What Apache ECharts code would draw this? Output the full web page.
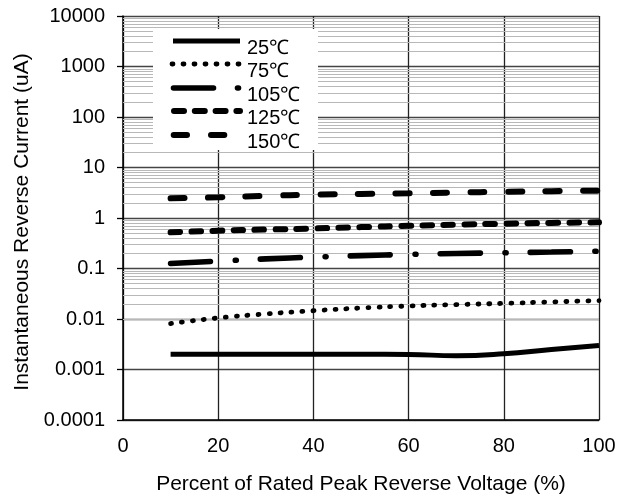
<!DOCTYPE html>
<html>
<head>
<meta charset="utf-8">
<script src="https://cdn.jsdelivr.net/npm/echarts@6/dist/echarts.min.js"></script>
<style>
html,body{margin:0;padding:0;background:#fff;}
#chart{width:630px;height:497px;}
</style>
</head>
<body>
<div id="chart"></div>
<script>
// ---- data ----
var seriesNames = ['25℃', '75℃', '105℃', '125℃', '150℃'];
var xValues = [10, 20, 30, 40, 50, 60, 70, 80, 90, 100];
var s25  = [0.002, 0.002, 0.002, 0.002, 0.002, 0.00198, 0.00188, 0.00205, 0.0025, 0.003];
var s75  = [0.0081, 0.0105, 0.0126, 0.0146, 0.0165, 0.0181, 0.0193, 0.0204, 0.0218, 0.0231];
var s105 = [0.126, 0.14, 0.155, 0.168, 0.18, 0.19, 0.198, 0.205, 0.212, 0.22];
var s125 = [0.52, 0.56, 0.59, 0.62, 0.66, 0.70, 0.74, 0.77, 0.80, 0.82];
var s150 = [2.45, 2.57, 2.75, 2.9, 3.0, 3.08, 3.2, 3.3, 3.4, 3.47];
var yTickValues = [0.0001, 0.001, 0.01, 0.1, 1, 10, 100, 1000, 10000];
var yTickLabels = ['0.0001', '0.001', '0.01', '0.1', '1', '10', '100', '1000', '10000'];
var xTickLabels = ['0', '20', '40', '60', '80', '100'];
var minorMultipliers = [2, 3, 4, 5, 6, 7, 8, 9];

function pairs(ys) { return xValues.map(function (x, i) { return [x, ys[i]]; }); }

var minorLines = [];
for (var d = 0; d < yTickValues.length - 1; d++) {
  minorMultipliers.forEach(function (m) {
    minorLines.push({ yAxis: +(yTickValues[d] * m).toPrecision(3) });
  });
}

var FONT = 'Liberation Sans';
var chart = echarts.init(document.getElementById('chart'), null, { renderer: 'canvas' });

// line styles shared by plotted lines and legend samples
var styles = [
  { width: 5, dash: null },
  { width: 4.8, dash: [1, 10] },
  { width: 5.6, dash: [40, 24.5, 1, 24.5] },
  { width: 6, dash: [9.5, 11.5] },
  { width: 6, dash: [14, 23.5] }
];
var legendDash = [null, [1, 10], [40, 24, 1, 30], [10, 10.8], [13.3, 24]];
var legendX = [[173, 240], [172, 239], [173.5, 239], [174, 240], [173.7, 224.5]];
var legendY = [41, 64, 88, 111, 135];

function lineSeries(i, ys) {
  var st = styles[i];
  return {
    name: seriesNames[i], type: 'line', data: pairs(ys), smooth: true, symbol: 'none',
    z: 5, silent: true,
    lineStyle: { color: '#000', width: st.width, type: st.dash || 'solid', cap: st.dash ? 'round' : 'butt' }
  };
}

var legendGraphics = [{
  type: 'rect', left: 153, top: 29, z: 100,
  shape: { width: 165, height: 121 },
  style: { fill: '#fff' }
}];
seriesNames.forEach(function (n, i) {
  legendGraphics.push({
    type: 'line', z: 101,
    shape: { x1: legendX[i][0], y1: legendY[i], x2: legendX[i][1], y2: legendY[i] },
    style: { stroke: '#000', lineWidth: styles[i].width, lineDash: legendDash[i], lineCap: legendDash[i] ? 'round' : 'butt' }
  });
  legendGraphics.push({
    type: 'text', z: 101, x: 247, y: legendY[i] + 7,
    style: { text: n, fill: '#000', font: '20px "' + FONT + '"', verticalAlign: 'middle' }
  });
});

var option = {
  animation: false,
  backgroundColor: '#fff',
  grid: { left: 123, top: 16, right: 31, bottom: 77, outerBoundsMode: 'none', containLabel: false },
  graphic: legendGraphics,
  xAxis: {
    type: 'value', min: 0, max: 100, interval: 20,
    name: 'Percent of Rated Peak Reverse Voltage (%)',
    nameLocation: 'middle', nameGap: 54,
    nameTextStyle: { fontFamily: FONT, fontSize: 21, color: '#000' },
    axisLine: { show: true, lineStyle: { color: '#000', width: 1.5 } },
    axisTick: { show: false },
    axisLabel: { fontFamily: FONT, fontSize: 20, color: '#000', margin: 16,
      formatter: function (v) { return xTickLabels[Math.round(v / 20)]; } },
    splitLine: { show: true, lineStyle: { color: '#222', width: 1.3 } }
  },
  yAxis: {
    type: 'log', logBase: 10, min: 0.0001, max: 10000, splitNumber: 8,
    name: 'Instantaneous Reverse Current (uA)',
    nameLocation: 'middle', nameGap: 85, nameRotate: 90,
    nameTextStyle: { fontFamily: FONT, fontSize: 21, color: '#000', padding: [0, 8, 0, 0] },
    axisLine: { show: true, lineStyle: { color: '#000', width: 1.5 } },
    axisTick: { show: true, inside: false, length: 6, lineStyle: { color: '#000', width: 1.3 } },
    axisLabel: { fontFamily: FONT, fontSize: 20, color: '#000', margin: 18,
      formatter: function (v) {
        var idx = yTickValues.findIndex(function (t) { return Math.abs(Math.log10(t) - Math.log10(v)) < 1e-6; });
        return idx >= 0 ? yTickLabels[idx] : '';
      } },
    splitLine: { show: true, lineStyle: { color: '#444', width: 1.3 } }
  },
  series: [
    {
      name: 'minor', type: 'line', data: [], silent: true, z: 1,
      markLine: {
        silent: true, symbol: ['none', 'none'], animation: false,
        label: { show: false },
        lineStyle: { color: '#b8b8b8', width: 1, type: 'solid' },
        emphasis: { disabled: true },
        data: minorLines
      }
    },
    lineSeries(0, s25),
    lineSeries(1, s75),
    lineSeries(2, s105),
    lineSeries(3, s125),
    lineSeries(4, s150)
  ]
};
chart.setOption(option);
</script>
</body>
</html>
